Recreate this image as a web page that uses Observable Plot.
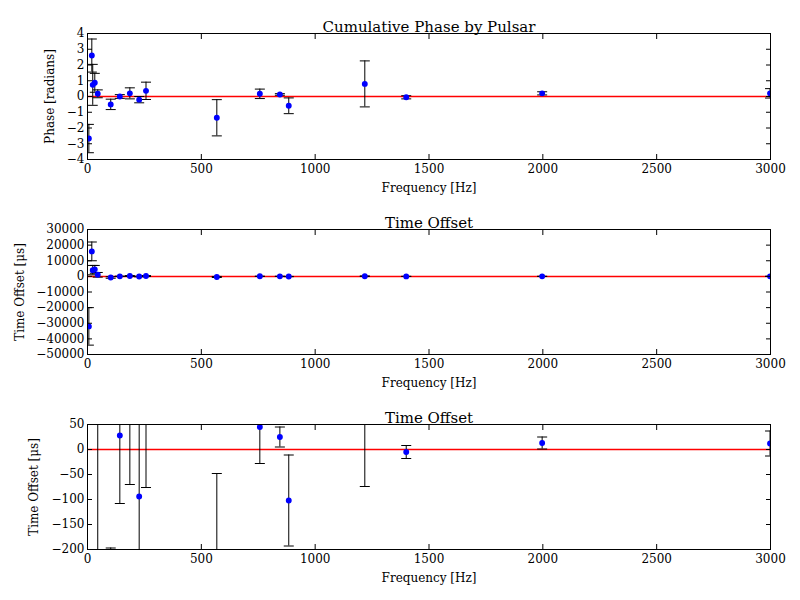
<!DOCTYPE html>
<html><head><meta charset="utf-8">
<script src="https://cdn.jsdelivr.net/npm/d3@7"></script>
<script src="https://cdn.jsdelivr.net/npm/@observablehq/plot@0.6"></script>
<style>body{margin:0;background:#fff;font-family:"DejaVu Serif",serif}svg{display:block}</style>
</head><body><div id="c"></div>
<script>
const freq = [6, 19, 23, 32, 45, 102, 142, 186, 227, 257, 568, 757, 845, 884, 1218, 1400, 1997, 2998];
const phase = [-2.67, 2.6, 0.74, 0.87, 0.17, -0.5, 0.0, 0.2, -0.2, 0.36, -1.35, 0.17, 0.13, -0.59, 0.8, -0.05, 0.2, 0.2];
const phaseErr = [0.9, 1.05, 1.3, 0.6, 0.25, 0.33, 0.12, 0.35, 0.2, 0.55, 1.15, 0.3, 0.05, 0.5, 1.46, 0.1, 0.1, 0.3];
const offset = [-32000, 16000, 4000, 4500, 1000, -700, 28, 230, -94, 220, -380, 45, 25, -102, 116, -5, 13, 12];
const offsetErr = [12000, 6000, 3000, 2500, 1500, 503, 136, 300, 200, 296, 332, 73, 20, 91, 190, 13, 12, 25];
const xTicks = [0, 500, 1000, 1500, 2000, 2500, 3000];

const font = "DejaVu Serif";
const blank = () => "";
function panel(title, ylabel, vals, errs, domain, yticks, mt, lo) {
  const data = freq.map((f, i) => ({f, v: vals[i], e: errs[i]}));
  const tk = {tickSize: -5, stroke: "#000"};
  return Plot.plot({
    width: 800, height: 195, marginLeft: 87, marginRight: 30, marginTop: mt, marginBottom: 36,
    style: {fontFamily: font, fontSize: "12px", color: "#000"},
    x: {domain: [0, 3000]},
    y: {domain},
    marks: [
      Plot.ruleY([0], {stroke: "red", strokeWidth: 1.5}),
      Plot.ruleX(data, {x: "f", y1: d => d.v - d.e, y2: d => d.v + d.e, stroke: "#000", clip: true}),
      Plot.link(data, {x1: d => d.f - 22, x2: d => d.f + 22, y1: d => d.v - d.e, y2: d => d.v - d.e, stroke: "#000", clip: true}),
      Plot.link(data, {x1: d => d.f - 22, x2: d => d.f + 22, y1: d => d.v + d.e, y2: d => d.v + d.e, stroke: "#000", clip: true}),
      Plot.dot(data, {x: "f", y: "v", r: 2.2, fill: "blue", stroke: "blue", clip: true}),
      Plot.frame({stroke: "#000"}),
      Plot.axisX({ticks: xTicks, ...tk, tickPadding: 10, tickFormat: d3.format("d"), label: "Frequency [Hz]", labelAnchor: "center", labelArrow: "none", labelOffset: 32, fontSize: 12}),
      Plot.axisX({anchor: "top", ticks: xTicks, ...tk, tickFormat: blank, label: null}),
      Plot.axisY({ticks: yticks, ...tk, tickPadding: 8, tickFormat: d3.format("d"), label: ylabel, labelAnchor: "center", labelArrow: "none", labelOffset: lo, fontSize: 12}),
      Plot.axisY({anchor: "right", ticks: yticks, ...tk, tickFormat: blank, label: null}),
      Plot.text([title], {frameAnchor: "top", dy: -12, fontSize: 15, fill: "#000"})
    ]
  });
}
const c = document.getElementById("c");
c.append(panel("Cumulative Phase by Pulsar", "Phase [radians]", phase, phaseErr, [-4, 4], d3.range(-4, 5, 1), 33, 42));
c.append(panel("Time Offset", "Time Offset [μs]", offset, offsetErr, [-50000, 30000], d3.range(-50000, 30001, 10000), 34, 72));
c.append(panel("Time Offset", "Time Offset [μs]", offset, offsetErr, [-200, 50], d3.range(-200, 51, 50), 34, 58));
</script></body></html>
